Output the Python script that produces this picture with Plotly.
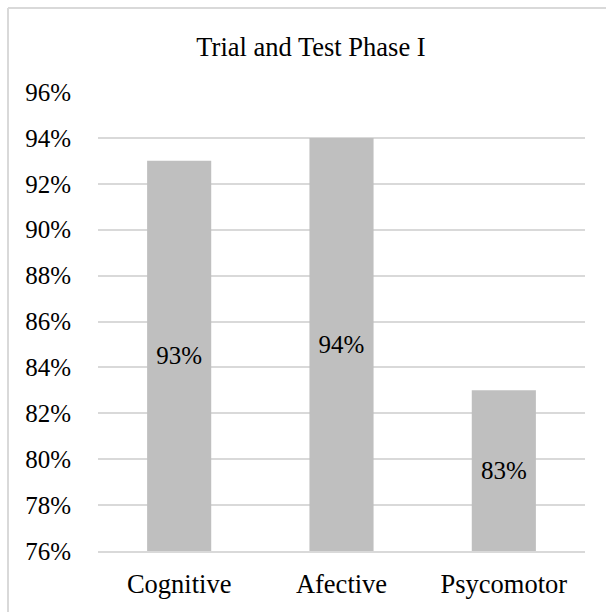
import plotly.graph_objects as go

categories = ["Cognitive", "Afective", "Psycomotor"]
values = [0.93, 0.94, 0.83]
title_text = "Trial and Test Phase I"
axis_min, axis_max, axis_step = 0.76, 0.96, 0.02

W, H = 606, 612
L, R, T, B = 98, 21, 92, 61
pw, ph = W - L - R, H - T - B

FONT = "Liberation Serif, Times New Roman, serif"

fig = go.Figure(go.Bar(
    x=categories, y=[v - axis_min for v in values], base=axis_min,
    marker=dict(color="#BFBFBF", line=dict(width=0)),
    text=[f"{v:.0%}" for v in values],
    textposition="inside", insidetextanchor="middle",
    textfont=dict(family=FONT, size=25, color="#000000"),
    width=0.395,
    hovertext=[f"{v:.0%}" for v in values], hoverinfo="x+text",
))

def px_x(x):
    return (x - L) / pw

def px_y(y):
    return 1 - (y - T) / ph

fig.update_layout(
    width=W, height=H,
    margin=dict(l=L, r=R, t=T, b=B, pad=0),
    paper_bgcolor="white", plot_bgcolor="white",
    font=dict(family=FONT, size=25, color="#000000"),
    showlegend=False,
    title=dict(text=title_text, x=311 / W, xanchor="center", xref="container",
               y=1 - 47 / H, yanchor="middle", yref="container",
               font=dict(family=FONT, size=26.5, color="#000000")),
    xaxis=dict(showgrid=False, showline=True, linecolor="#D9D9D9", linewidth=1.5,
               ticks="", tickfont=dict(family=FONT, size=26.5, color="#000000"),
               ticklabelstandoff=8),
    yaxis=dict(range=[axis_min, axis_max], dtick=axis_step, tick0=axis_min, tickformat=".0%",
               showgrid=True, gridcolor="#D9D9D9", gridwidth=1.5,
               zeroline=False, showline=False, ticks="",
               tickfont=dict(family=FONT, size=25, color="#000000"),
               ticklabelstandoff=26),
    shapes=[
        dict(type="line", xref="paper", yref="paper",
             x0=px_x(8), x1=px_x(8), y0=px_y(8), y1=px_y(H + 5),
             line=dict(color="#D9D9D9", width=2)),
        dict(type="line", xref="paper", yref="paper",
             x0=px_x(8), x1=px_x(W + 5), y0=px_y(8), y1=px_y(8),
             line=dict(color="#D9D9D9", width=2)),
    ],
)

fig.write_html("out.html",
               config={"displayModeBar": False},
               post_script="document.body.style.margin='0';document.body.style.padding='0';")
